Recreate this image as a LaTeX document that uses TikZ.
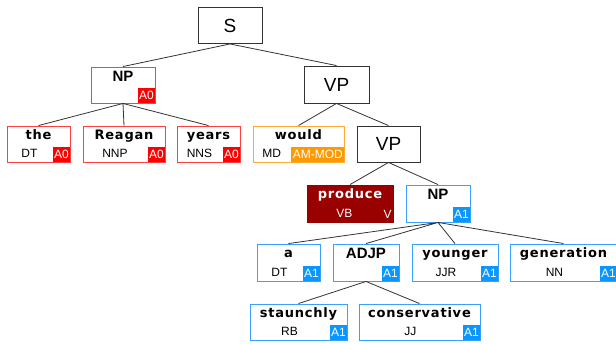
\documentclass[tikz,border=0pt]{standalone}
\usepackage{fontspec}
\setmainfont{Liberation Sans}
\newfontfamily\wordfont{DejaVu Sans}[LetterSpace=6]
\usetikzlibrary{calc}
\definecolor{redline}{HTML}{FF4040}
\definecolor{redtag}{HTML}{FF0000}
\definecolor{orangeline}{HTML}{FFAA33}
\definecolor{orangetag}{HTML}{FF9900}
\definecolor{blueline}{HTML}{3AA0FF}
\definecolor{bluetag}{HTML}{0A96FF}
\definecolor{predfill}{HTML}{990000}

\begin{document}
\begin{tikzpicture}[x=1pt,y=-1pt]
	\tikzstyle{phrase}=[rectangle, draw=black!80, fill=white, line width=0.9pt, minimum width=64pt, minimum height=36pt, inner sep=0pt, font=\fontsize{19}{19}\selectfont]
	\tikzstyle{constit}=[rectangle, fill=white, line width=0.9pt, minimum height=36pt, inner sep=0pt]
	\tikzstyle{wordtxt}=[anchor=base, inner sep=0pt, font=\wordfont\bfseries\fontsize{13}{13}\selectfont]
	\tikzstyle{cattxt}=[anchor=base, inner sep=0pt, font=\bfseries\fontsize{15}{15}\selectfont]
	\tikzstyle{postxt}=[anchor=base, inner sep=0pt, font=\fontsize{12}{12}\selectfont]
	\tikzstyle{rolebox}=[anchor=south east, text=white, inner xsep=1.5pt, inner ysep=0pt, minimum height=15pt, font=\fontsize{12}{12}\selectfont]
	\tikzstyle{branch}=[draw=black!80, line width=0.8pt]
	\useasboundingbox (0,0) rectangle (616,343);

	\node[phrase] (S) at (230,25.5) {S};
	\node[phrase, minimum width=65pt, minimum height=37pt] (vp0) at (336.5,84.5) {VP};
	\node[phrase, minimum width=63pt] (vp1) at (388.5,144) {VP};

	\node[constit, draw=redline, minimum width=64pt] (np0) at (123,85) {};
	\node[cattxt] (np0C) at ([yshift=-15pt]np0.north) {NP};
	\node[rolebox, fill=redtag] (np0R) at (np0.south east) {A0};

	\node[constit, draw=redline, minimum width=63pt] (the) at (38.5,144) {};
	\node[wordtxt] (theW) at ([yshift=-14pt]the.north) {the};
	\node[rolebox, fill=redtag] (theR) at (the.south east) {A0};
	\node[postxt] (theP) at ($(the.south west)!.5!(theR.south west)+(0,-5)$) {DT};

	\node[constit, draw=redline, minimum width=82pt] (reagan) at (124,144) {};
	\node[wordtxt] (reaganW) at ([yshift=-14pt]reagan.north) {Reagan};
	\node[rolebox, fill=redtag] (reaganR) at (reagan.south east) {A0};
	\node[postxt] (reaganP) at ($(reagan.south west)!.5!(reaganR.south west)+(0,-5)$) {NNP};

	\node[constit, draw=redline, minimum width=63pt] (years) at (208.5,144) {};
	\node[wordtxt] (yearsW) at ([yshift=-14pt]years.north) {years};
	\node[rolebox, fill=redtag] (yearsR) at (years.south east) {A0};
	\node[postxt] (yearsP) at ($(years.south west)!.5!(yearsR.south west)+(0,-5)$) {NNS};

	\node[constit, draw=orangeline, minimum width=91pt] (would) at (298.5,144) {};
	\node[wordtxt] (wouldW) at ([yshift=-14pt]would.north) {would};
	\node[rolebox, fill=orangetag] (wouldR) at (would.south east) {AM-MOD};
	\node[postxt] (wouldP) at ($(would.south west)!.5!(wouldR.south west)+(0,-5)$) {MD};

	\node[constit, draw=predfill, fill=predfill, minimum width=86pt, minimum height=37pt] (produce) at (350,203.5) {};
	\node[wordtxt, text=white] (produceW) at ([yshift=-14pt]produce.north) {produce};
	\node[rolebox, fill=predfill] (produceR) at (produce.south east) {V};
	\node[postxt, text=white] (produceP) at ($(produce.south west)!.5!(produceR.south west)+(0,-5)$) {VB};

	\node[constit, draw=blueline, minimum width=64pt, minimum height=37pt] (np1) at (438,203.5) {};
	\node[cattxt] (np1C) at ([yshift=-15pt]np1.north) {NP};
	\node[rolebox, fill=bluetag] (np1R) at (np1.south east) {A1};

	\node[constit, draw=blueline, minimum width=63pt, minimum height=37pt] (a) at (288.5,262.5) {};
	\node[wordtxt] (aW) at ([yshift=-14pt]a.north) {a};
	\node[rolebox, fill=bluetag] (aR) at (a.south east) {A1};
	\node[postxt] (aP) at ($(a.south west)!.5!(aR.south west)+(0,-5)$) {DT};

	\node[constit, draw=blueline, minimum width=66pt, minimum height=37pt] (adjp) at (366,262.5) {};
	\node[cattxt] (adjpC) at ([yshift=-15pt]adjp.north) {ADJP};
	\node[rolebox, fill=bluetag] (adjpR) at (adjp.south east) {A1};

	\node[constit, draw=blueline, minimum width=86pt, minimum height=37pt] (younger) at (455,262.5) {};
	\node[wordtxt] (youngerW) at ([yshift=-14pt]younger.north) {younger};
	\node[rolebox, fill=bluetag] (youngerR) at (younger.south east) {A1};
	\node[postxt] (youngerP) at ($(younger.south west)!.5!(youngerR.south west)+(0,-5)$) {JJR};

	\node[constit, draw=blueline, minimum width=107pt, minimum height=37pt] (generation) at (563.5,262.5) {};
	\node[wordtxt] (generationW) at ([yshift=-14pt]generation.north) {generation};
	\node[rolebox, fill=bluetag] (generationR) at (generation.south east) {A1};
	\node[postxt] (generationP) at ($(generation.south west)!.5!(generationR.south west)+(0,-5)$) {NN};

	\node[constit, draw=blueline, minimum width=97pt] (staunchly) at (298.5,322) {};
	\node[wordtxt] (staunchlyW) at ([yshift=-14pt]staunchly.north) {staunchly};
	\node[rolebox, fill=bluetag] (staunchlyR) at (staunchly.south east) {A1};
	\node[postxt] (staunchlyP) at ($(staunchly.south west)!.5!(staunchlyR.south west)+(0,-5)$) {RB};

	\node[constit, draw=blueline, minimum width=121pt] (conservative) at (419.5,322) {};
	\node[wordtxt] (conservativeW) at ([yshift=-14pt]conservative.north) {conservative};
	\node[rolebox, fill=bluetag] (conservativeR) at (conservative.south east) {A1};
	\node[postxt] (conservativeP) at ($(conservative.south west)!.5!(conservativeR.south west)+(0,-5)$) {JJ};

	\path[branch] (S.south) -- (np0.north)
		(S.south) -- (vp0.north)
		(np0.south) -- (the.north)
		(np0.south) -- (reagan.north)
		(np0.south) -- (years.north)
		(vp0.south) -- (would.north)
		(vp0.south) -- (vp1.north)
		(vp1.south) -- (produce.north)
		(vp1.south) -- (np1.north)
		(np1.south) -- (a.north)
		(np1.south) -- (adjp.north)
		(np1.south) -- (younger.north)
		(np1.south) -- (generation.north)
		(adjp.south) -- (staunchly.north)
		(adjp.south) -- (conservative.north);
\end{tikzpicture}
\end{document}
